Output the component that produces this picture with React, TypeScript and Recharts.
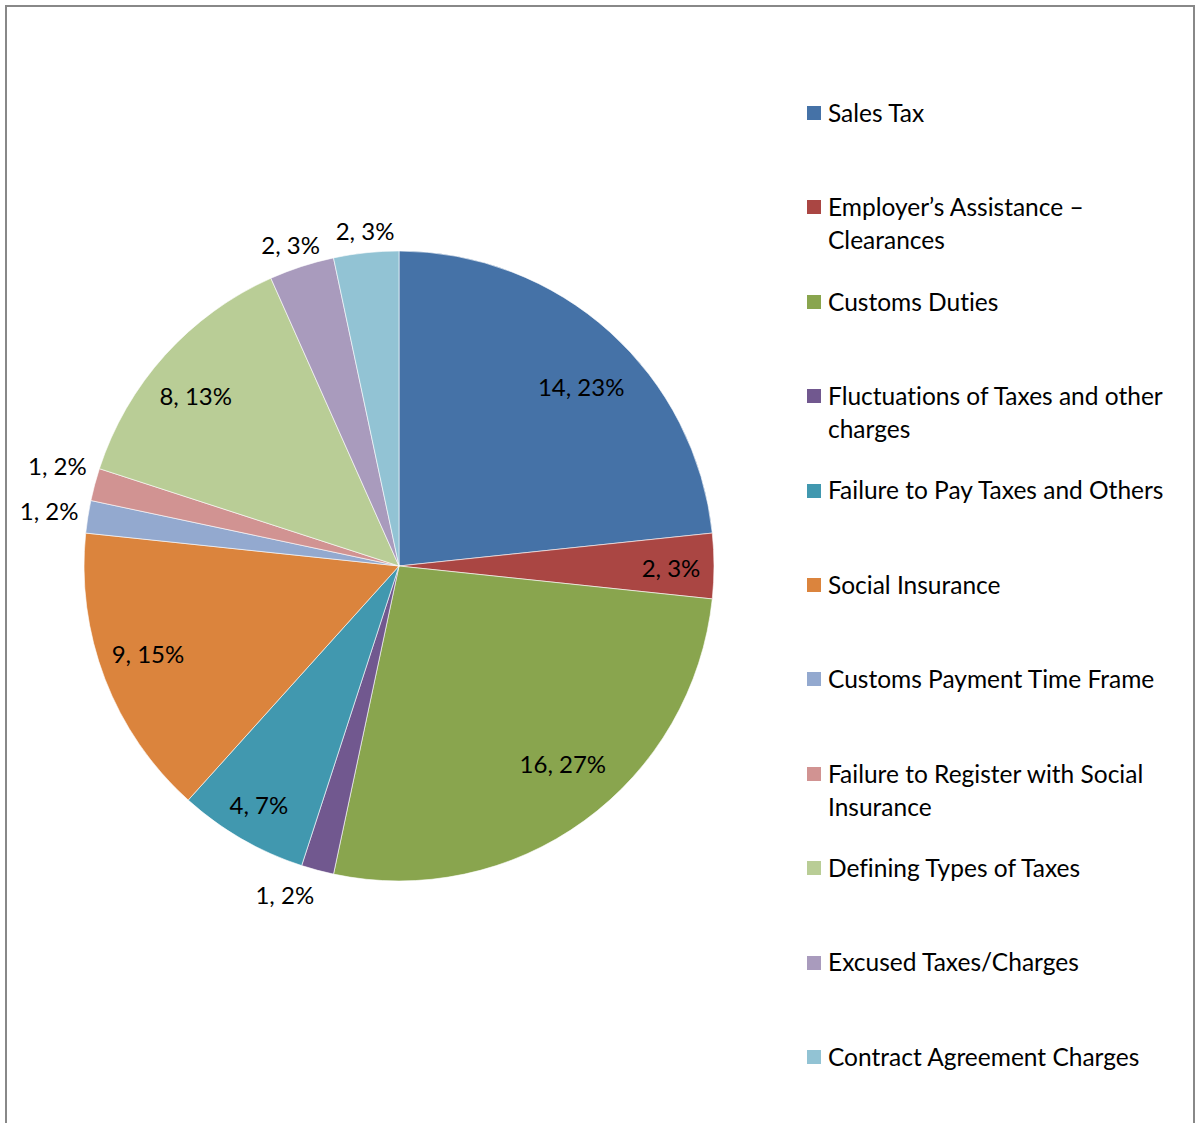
import React from 'react';
import { PieChart, Pie, Cell, Legend } from 'recharts';

const categories = [
  'Sales Tax',
  'Employer\u2019s Assistance \u2013 Clearances',
  'Customs Duties',
  'Fluctuations of Taxes and other charges',
  'Failure to Pay Taxes and Others',
  'Social Insurance',
  'Customs Payment Time Frame',
  'Failure to Register with Social Insurance',
  'Defining Types of Taxes',
  'Excused Taxes/Charges',
  'Contract Agreement Charges',
];

const counts = [14, 2, 16, 1, 4, 9, 1, 1, 8, 2, 2];

const colors = [
  '#4572A7', '#AA4643', '#89A54E', '#71588F', '#4198AF', '#DB843D',
  '#93A9CF', '#D19392', '#B9CD96', '#A99BBD', '#92C3D4',
];

// label placement (Excel "best fit"): distance from centre and angular nudge (deg, clockwise)
const labelRadius = [255, 272, 257, 349, 277, 266, 354, 356, 265, 338, 336];
const labelAngleNudge = [3.6, 0.4, -3.6, 4.1, 0.4, 1.7, -0.2, 1.3, -2.1, -0.7, 0.2];

const data = categories.map((name, i) => ({ name, value: counts[i] }));

const FONT = 'Lato, "Open Sans", sans-serif';
const RAD = Math.PI / 180;
const LABEL_SIZE = 24;

const renderLabel = (props: any) => {
  const { cx, cy, midAngle, index, value, percent } = props;
  const d = labelRadius[index];
  const a = midAngle - labelAngleNudge[index];
  const x = cx + d * Math.cos(-a * RAD);
  const y = cy + d * Math.sin(-a * RAD);
  return (
    <text
      x={x}
      y={y + LABEL_SIZE * 0.36}
      textAnchor="middle"
      fontFamily={FONT}
      fontSize={LABEL_SIZE}
      fill="#000"
      style={{ fontVariantLigatures: 'none' }}
    >
      {`${value}, ${Math.round(percent * 100)}%`}
    </text>
  );
};

const renderLegend = () => {
  return (
    <div style={{ position: 'relative', width: 380 }}>
      {categories.map((name, i) => (
        <div
          key={i}
          style={{
            position: 'absolute',
            left: 0,
            top: i * 94.4,
            display: 'flex',
            alignItems: 'flex-start',
          }}
        >
          <div
            style={{
              width: 14,
              height: 14,
              background: colors[i],
              marginTop: 10.2,
              marginRight: 7,
              flexShrink: 0,
            }}
          />
          <div
            style={{
              fontFamily: FONT,
              fontSize: 24.5,
              lineHeight: '33px',
              color: '#000',
              width: 352,
              textAlign: 'left',
              whiteSpace: 'normal',
              fontVariantLigatures: 'none',
            }}
          >
            {name}
          </div>
        </div>
      ))}
    </div>
  );
};

export default function App() {
  return (
    <div style={{ position: 'absolute', left: 0, top: 0, width: 1195, height: 1123, background: '#fff', overflow: 'hidden' }}>
      <div
        style={{
          position: 'absolute',
          left: 5,
          top: 5,
          width: 1186,
          height: 1140,
          borderLeft: '2px solid #888',
          borderTop: '2px solid #888',
          borderRight: '2px solid #888',
        }}
      />
      <div style={{ position: 'absolute', left: 0, top: 0 }}>
        <PieChart width={1195} height={1123} margin={{ top: 0, right: 0, bottom: 0, left: 0 }}>
          <Pie
            data={data}
            dataKey="value"
            nameKey="name"
            cx={399}
            cy={566}
            outerRadius={315}
            startAngle={90}
            endAngle={-270}
            label={renderLabel}
            labelLine={false}
            stroke="#fff"
            strokeWidth={0.6}
            isAnimationActive={false}
          >
            {data.map((_, i) => (
              <Cell key={i} fill={colors[i]} />
            ))}
          </Pie>
          <Legend
            layout="vertical"
            align="right"
            verticalAlign="top"
            content={renderLegend}
            wrapperStyle={{ position: 'absolute', left: 807, top: 95.8, width: 380 }}
          />
        </PieChart>
      </div>
    </div>
  );
}
